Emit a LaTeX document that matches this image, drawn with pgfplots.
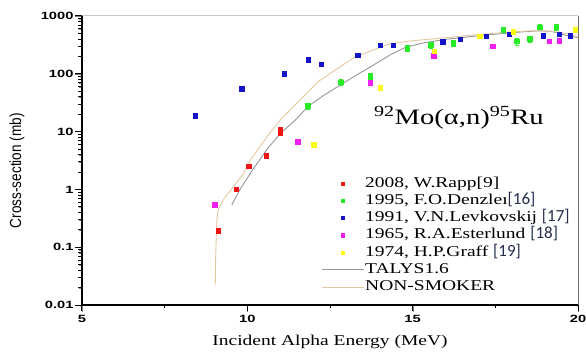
\documentclass[border=0pt]{standalone}
\usepackage{fontspec}
\usepackage{pgfplots}
\pgfplotsset{compat=1.18}
\setmainfont{Liberation Serif}[FakeStretch=1.3]
\newfontfamily\tickfont{Liberation Sans}[FakeStretch=1.4]
\newfontfamily\ylabfont{Liberation Sans}[FakeStretch=0.85]
\newfontfamily\reffont{Carlito}
\definecolor{talys}{RGB}{150,150,150}
\definecolor{nons}{RGB}{228,200,160}
\definecolor{mred}{RGB}{240,20,20}
\definecolor{mgreen}{RGB}{40,235,40}
\definecolor{mblue}{RGB}{20,20,200}
\definecolor{mmag}{RGB}{240,30,240}
\definecolor{myel}{RGB}{250,250,20}
\definecolor{refc}{RGB}{35,45,75}
\newcommand{\refn}[1]{{\reffont\color{refc}\fontsize{17bp}{12bp}\selectfont #1}}
\begin{document}
\begin{tikzpicture}
\begin{axis}[
  at={(0,0)}, anchor=south west, name=ax,
  width=496bp, height=289bp, scale only axis,
  clip=false,
  ymode=log, xmin=5, xmax=20, ymin=0.01, ymax=1000,
  xtick={5,10,15,20}, xticklabels={5,10,15,20},
  ytick={0.01,0.1,1,10,100,1000}, yticklabels={0.01,0.1,1,10,100,1000},
  axis x line*=bottom, axis y line*=left,
  tick align=outside,
  major tick length=7bp,
  axis line style={black, line width=1.2bp},
  ticklabel style={font=\tickfont\bfseries\fontsize{10.5bp}{12bp}\selectfont},
  yticklabel style={xshift=2bp},
  xlabel={Incident Alpha Energy (MeV)},
  ylabel={Cross-section (mb)},
  xlabel style={font=\fontsize{15bp}{18bp}\selectfont, at={(rel axis cs:0.5,-0.128)}, anchor=center},
  ylabel style={font=\ylabfont\fontsize{16bp}{18bp}\selectfont, at={(rel axis cs:-0.131,0.465)}, anchor=center},
  legend style={at={(rel axis cs:0.476,0.453)}, anchor=north west, draw=none, fill=none,
    font=\fontsize{15bp}{16bp}\selectfont, row sep=2.2bp,
    nodes={inner sep=1bp, text height=10bp, text depth=3bp}},
  legend cell align=left,
  legend image code/.code={\draw[mark repeat=2,mark phase=2,#1] plot coordinates {(0bp,0bp) (21bp,0bp) (42bp,0bp)};},
  legend image post style={mark size=1.6bp},
  every axis plot/.append style={line width=0.9bp},
]
\addplot[only marks, mark=square*, mark size=2.2bp, color=mred] coordinates {
(9.12,0.19) (9.67,1.0) (10.05,2.5) (10.58,3.8) (11.0,9.3) (11.0,10.6)};
\addlegendentry{2008, W.Rapp[9]}
\addplot[only marks, mark=square*, mark size=2.2bp, color=mgreen,
  error bars/.cd, y dir=both, y explicit relative,
  error bar style={mgreen, line width=0.7bp},
  error mark options={rotate=90, mark size=2.3bp, mgreen}] coordinates {
(11.83,27.7) +- (0,0.12)
(12.83,71) +- (0,0.12)
(13.73,91) +- (0,0.12)
(14.84,279) +- (0,0.12)
(15.55,315) +- (0,0.12)
(16.23,337) +- (0,0.12)
(17.75,565) +- (0,0.12)
(18.15,362) +- (0,0.12)
(18.55,398) +- (0,0.12)
(18.85,635) +- (0,0.12)
(19.34,650) +- (0,0.12)};
\addlegendentry{1995, F.O.Denzleı\refn{[16]}}
\addplot[only marks, mark=square*, mark size=2.2bp, color=mblue] coordinates {
(8.43,18.6) (9.84,54.6) (11.13,100) (11.84,173) (12.24,146) (13.34,209)
(14.03,311) (14.42,307) (15.92,355) (16.44,392) (17.24,448) (17.93,482)
(18.95,453) (19.43,482) (19.77,453)};
\addlegendentry{1991, V.N.Levkovskij \refn{[17]}}
\addplot[only marks, mark=square*, mark size=2.2bp, color=mmag] coordinates {
(9.02,0.54) (11.53,6.6) (13.73,70) (15.64,204) (17.43,295) (19.14,365) (19.44,368)};
\addlegendentry{1965, R.A.Esterlund \refn{[18]}}
\addplot[only marks, mark=square*, mark size=2.2bp, color=myel] coordinates {
(12.02,5.9) (14.03,57) (15.65,241) (17.04,445) (18.05,532) (19.93,573)};
\addlegendentry{1974, H.P.Graff \refn{[19]}}
\addplot[talys, no marks] coordinates {
(9.53,0.54) (9.8,1.05) (10.16,2.17) (10.6,5.0) (11.0,9.3) (11.45,15.8)
(11.83,27) (12.3,42) (12.83,65) (13.3,95) (13.8,140) (14.33,215) (14.8,290)
(15.3,340) (16.0,395) (17.0,455) (18.0,515) (18.8,555) (19.2,540) (19.6,470) (20.0,420)};
\addlegendentry{TALYS1.6}
\addplot[nons, no marks] coordinates {
(9.03,0.022) (9.04,0.06) (9.06,0.15) (9.08,0.3) (9.12,0.45) (9.3,0.7)
(9.52,1.0) (9.89,1.9) (10.09,3.2) (10.6,8.2) (11.0,16) (12.15,74) (13.25,195)
(14.3,330) (15.0,374) (16.0,420) (17.0,480) (18.0,530) (18.7,560) (19.2,545)
(19.6,500) (20.0,450)};
\addlegendentry{NON-SMOKER}
\node[font=\fontsize{22bp}{24bp}\selectfont] at (axis cs:16.4,17.2)
  {\textsuperscript{92}Mo(α,n)\textsuperscript{95}Ru};
\draw[color=black!22, line width=1bp] (rel axis cs:0,1) -- (rel axis cs:1,1);
\draw[color=black!55, line width=1bp] (rel axis cs:1,0) -- (rel axis cs:1,1);
\pgfplotsinvokeforeach{0.01,0.1,1,10,100,1000}{\draw[black, line width=1bp] (axis cs:5,#1) -- ([xshift=-7bp]axis cs:5,#1);}
\pgfplotsinvokeforeach{0.02,0.03,0.04,0.05,0.06,0.07,0.08,0.09,0.2,0.3,0.4,0.5,0.6,0.7,0.8,0.9,2,3,4,5,6,7,8,9,20,30,40,50,60,70,80,90,200,300,400,500,600,700,800,900}{\draw[black, line width=0.9bp] (axis cs:5,#1) -- ([xshift=-4bp]axis cs:5,#1);}
\pgfplotsinvokeforeach{5,10,15,20}{\draw[black, line width=1bp] (axis cs:#1,0.01) -- ([yshift=-6bp]axis cs:#1,0.01);}
\pgfplotsinvokeforeach{7.5,12.5,17.5}{\draw[black, line width=1bp] (axis cs:#1,0.01) -- ([yshift=-3bp]axis cs:#1,0.01);}
\end{axis}
\pgfresetboundingbox
\path (-82bp,-49bp) rectangle (504bp,305bp);
\end{tikzpicture}
\end{document}
